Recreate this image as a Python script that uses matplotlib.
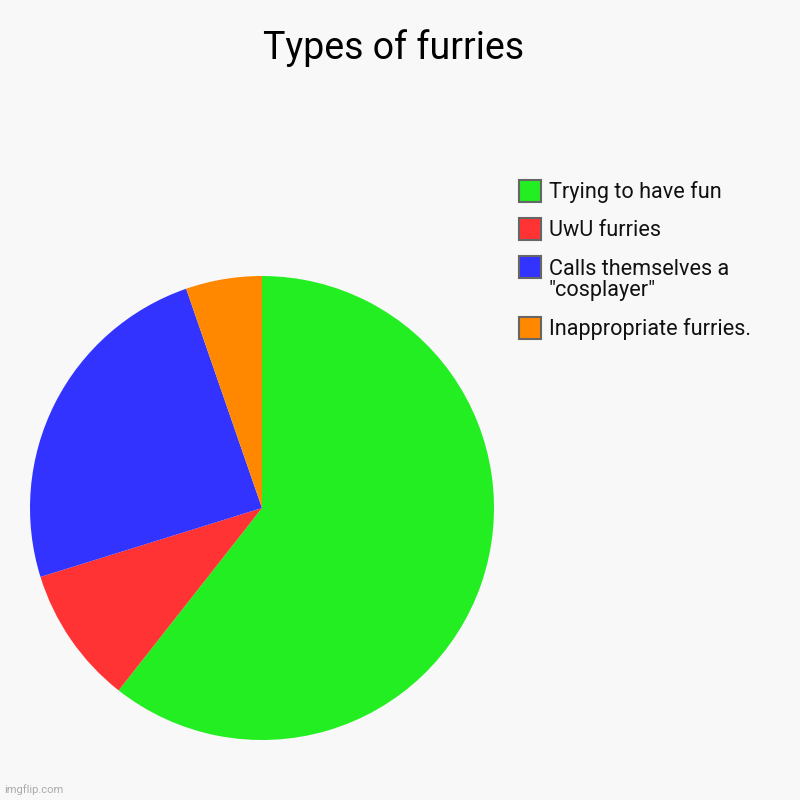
import matplotlib.pyplot as plt
from matplotlib.patches import Rectangle

plt.rcParams['font.family'] = ['Roboto', 'DejaVu Sans']

# datos
labels = ["Trying to have fun", "UwU furries", "Calls themselves a\n\"cosplayer\"", "Inappropriate furries."]
values = [60.6, 9.6, 24.5, 5.3]
colors = ["#22ee22", "#ff3333", "#3333ff", "#ff8800"]

bg = "#f8f8f8"
fig = plt.figure(figsize=(8, 8), dpi=100, facecolor=bg)

# pie: centro (262,508) px, radio 232 px
cx, cy, r = 262/800, 1 - 508/800, 232/800
ax = fig.add_axes([cx - r, cy - r, 2*r, 2*r])
ax.pie(values, colors=colors, startangle=90, counterclock=False, radius=1,
       wedgeprops={"linewidth": 0})
ax.set_xlim(-1, 1)
ax.set_ylim(-1, 1)
ax.set_aspect("equal")
ax.axis("off")

fig.text(0.4925, 1 - 48/800, "Types of furries", ha="center", va="center", fontsize=27, color="#000000")

# leyenda manual (caja y centro de texto en px)
box_y = [191, 229, 267, 328]
text_y = [192, 230, 280, 329]
for lab, col, by, ty in zip(labels, colors, box_y, text_y):
    fig.patches.append(Rectangle((519/800, 1 - (by + 11)/800), 22/800, 22/800,
                                 transform=fig.transFigure, facecolor=col,
                                 edgecolor="#666666", linewidth=1.5))
    fig.text(549/800, 1 - ty/800, lab, ha="left", va="center",
             fontsize=15.6, color="#111111", linespacing=1.05)

fig.text(4/800, 1 - 790/800, "imgflip.com", fontsize=8, color="#aaaaaa", va="center")

plt.savefig("out.png", dpi=100, facecolor=bg)
